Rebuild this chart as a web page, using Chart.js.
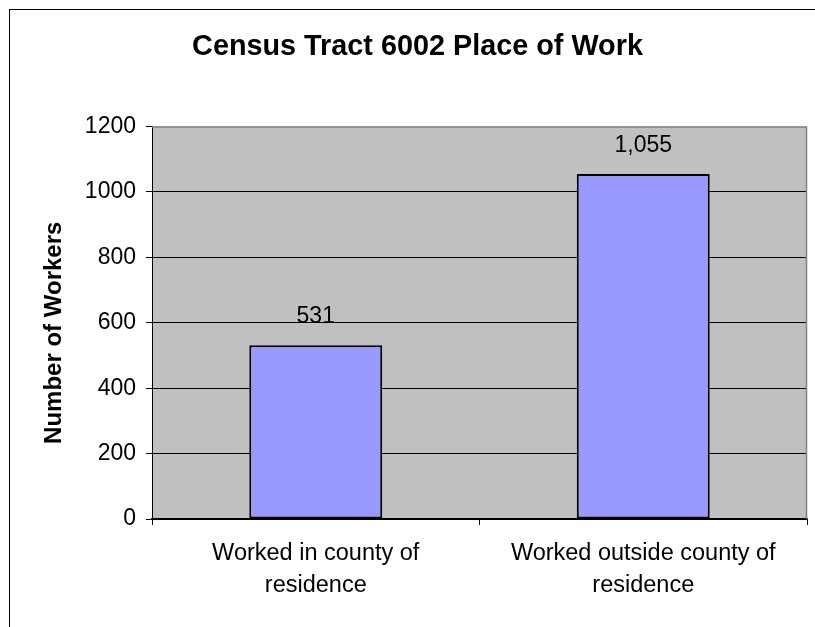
<!DOCTYPE html>
<html>
<head>
<meta charset="utf-8">
<script src="https://cdn.jsdelivr.net/npm/chart.js@4.4.1/dist/chart.umd.min.js"></script>
<style>
html,body{margin:0;padding:0;background:#ffffff;}
#wrap{width:815px;height:627px;position:relative;}
</style>
</head>
<body>
<div id="wrap"><canvas id="c" width="815" height="627"></canvas></div>
<script>
const chartTitle = 'Census Tract 6002 Place of Work';
const yAxisTitle = 'Number of Workers';
const categories = [['Worked in county of', 'residence'], ['Worked outside county of', 'residence']];
const workers = [531, 1055];
const yMin = 0;
const yMax = 1200;
const yStep = 200;

const FONT = '"Liberation Sans", Arial, Helvetica, sans-serif';
Chart.defaults.font.family = FONT;
Chart.defaults.color = '#000000';

const plotDecor = {
  id: 'plotDecor',
  beforeDraw(chart) {
    const {ctx, chartArea: a} = chart;
    ctx.save();
    ctx.fillStyle = '#ffffff';
    ctx.fillRect(0, 0, chart.width, chart.height);
    ctx.fillStyle = '#C0C0C0';
    ctx.fillRect(a.left, a.top, a.right - a.left, a.bottom - a.top);
    // outer chart border (extends beyond the visible canvas on right/bottom)
    ctx.strokeStyle = '#000000';
    ctx.lineWidth = 1;
    ctx.strokeRect(9.5, 9.5, 840, 640);
    ctx.restore();
  },
  afterDraw(chart) {
    const {ctx, chartArea: a} = chart;
    ctx.save();
    ctx.strokeStyle = '#808080';
    ctx.lineWidth = 1.5;
    ctx.beginPath();
    ctx.moveTo(a.left, a.top + 0.5);
    ctx.lineTo(a.right - 0.5, a.top + 0.5);
    ctx.lineTo(a.right - 0.5, a.bottom);
    ctx.stroke();
    ctx.restore();
  }
};

const valueLabels = {
  id: 'valueLabels',
  afterDatasetsDraw(chart) {
    const {ctx} = chart;
    const meta = chart.getDatasetMeta(0);
    const data = chart.data.datasets[0].data;
    ctx.save();
    ctx.font = '23px ' + FONT;
    ctx.fillStyle = '#000000';
    ctx.textAlign = 'center';
    ctx.textBaseline = 'alphabetic';
    meta.data.forEach((bar, i) => {
      ctx.fillText(data[i].toLocaleString('en-US'), bar.x, bar.y - 22);
    });
    ctx.restore();
  }
};

new Chart(document.getElementById('c'), {
  type: 'bar',
  data: {
    labels: categories,
    datasets: [{
      label: yAxisTitle,
      data: workers,
      backgroundColor: '#9999FF',
      borderColor: '#000000',
      borderWidth: 2,
      borderSkipped: false,
      categoryPercentage: 1.0,
      barPercentage: 0.406
    }]
  },
  options: {
    responsive: false,
    animation: false,
    devicePixelRatio: 1,
    layout: { padding: { left: 28, right: 8, top: 0, bottom: 0 } },
    plugins: {
      legend: { display: false },
      tooltip: { enabled: false },
      title: {
        display: true,
        text: chartTitle,
        color: '#000000',
        font: { size: 28.8, weight: 'bold', family: FONT },
        padding: { top: 30, bottom: 62 }
      }
    },
    scales: {
      x: {
        offset: true,
        grid: {
          offset: true,
          drawOnChartArea: false,
          drawTicks: true,
          tickLength: 6,
          color: '#000000',
          lineWidth: 1
        },
        border: { display: true, color: '#000000', width: 1.5 },
        ticks: {
          font: { size: 23.5, family: FONT, lineHeight: 1.37 },
          color: '#000000',
          padding: 12,
          maxRotation: 0,
          autoSkip: false
        },
        afterFit(scale) { scale.height = 108; }
      },
      y: {
        min: yMin,
        max: yMax,
        ticks: {
          stepSize: yStep,
          font: { size: 23, family: FONT },
          color: '#000000',
          padding: 10,
          callback: (v) => String(v)
        },
        grid: {
          color: (c) => (c.tick && c.tick.value === yMax) ? 'rgba(0,0,0,0)' : '#000000',
          tickColor: '#000000',
          lineWidth: 1,
          tickLength: 6,
          drawTicks: true
        },
        border: { display: true, color: '#000000', width: 1 },
        title: {
          display: true,
          text: yAxisTitle + '   ',
          color: '#000000',
          font: { size: 24, weight: 'bold', family: FONT },
          padding: { top: 12, bottom: 0 }
        },
        afterFit(scale) { scale.width = 124; }
      }
    }
  },
  plugins: [plotDecor, valueLabels]
});
</script>
</body>
</html>
